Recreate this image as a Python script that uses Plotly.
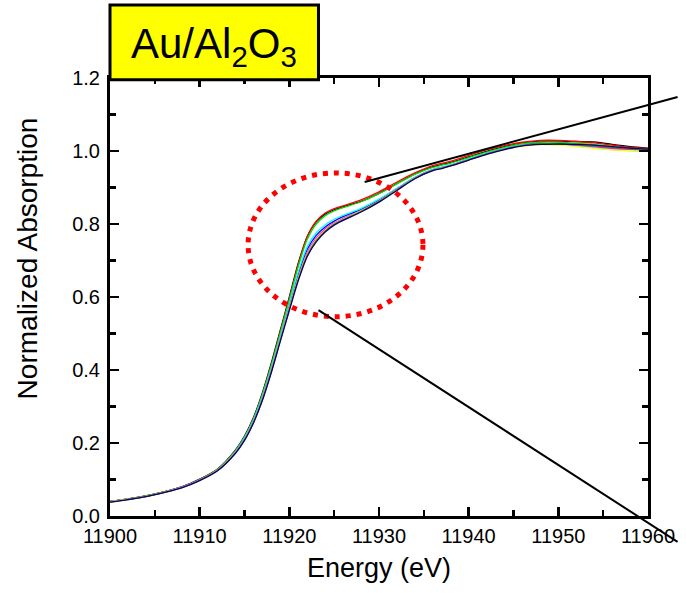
import plotly.graph_objects as go

# ---------------- data ----------------
energy = [11900, 11902, 11904, 11906, 11908, 11910, 11912, 11914, 11915, 11916,
          11917, 11918, 11919, 11920, 11921, 11922, 11923, 11924, 11925, 11926,
          11928, 11930, 11932, 11934, 11936, 11937, 11938, 11940, 11942, 11944,
          11946, 11948, 11950, 11952, 11954, 11956, 11958, 11960]

s_black = [0.040, 0.047, 0.055, 0.066, 0.080, 0.101, 0.129, 0.181, 0.219, 0.270,
           0.338, 0.420, 0.510, 0.600, 0.693, 0.766, 0.806, 0.827, 0.839, 0.847,
           0.862, 0.884, 0.911, 0.937, 0.957, 0.963, 0.969, 0.984, 0.999, 1.012,
           1.022, 1.027, 1.027, 1.026, 1.025, 1.018, 1.012, 1.008]
s_red = [0.040, 0.047, 0.055, 0.066, 0.080, 0.100, 0.128, 0.179, 0.217, 0.267,
         0.334, 0.415, 0.505, 0.596, 0.690, 0.766, 0.808, 0.830, 0.842, 0.850,
         0.866, 0.888, 0.915, 0.940, 0.960, 0.966, 0.972, 0.988, 1.003, 1.015,
         1.024, 1.029, 1.029, 1.026, 1.022, 1.016, 1.010, 1.007]
s_green = [0.040, 0.047, 0.055, 0.066, 0.080, 0.100, 0.128, 0.179, 0.216, 0.266,
           0.333, 0.413, 0.502, 0.592, 0.684, 0.758, 0.800, 0.823, 0.836, 0.845,
           0.861, 0.883, 0.910, 0.936, 0.955, 0.961, 0.967, 0.982, 0.997, 1.010,
           1.020, 1.024, 1.024, 1.021, 1.018, 1.012, 1.007, 1.004]
s_blue = [0.039, 0.046, 0.054, 0.065, 0.079, 0.099, 0.126, 0.176, 0.212, 0.261,
          0.325, 0.403, 0.490, 0.577, 0.663, 0.731, 0.769, 0.792, 0.808, 0.820,
          0.840, 0.866, 0.897, 0.927, 0.949, 0.955, 0.961, 0.977, 0.993, 1.006,
          1.016, 1.020, 1.020, 1.017, 1.014, 1.009, 1.005, 1.003]
s_cyan = [0.039, 0.046, 0.054, 0.065, 0.079, 0.099, 0.127, 0.177, 0.214, 0.263,
          0.328, 0.407, 0.494, 0.582, 0.669, 0.738, 0.776, 0.798, 0.813, 0.824,
          0.843, 0.868, 0.898, 0.928, 0.950, 0.956, 0.962, 0.978, 0.994, 1.007,
          1.016, 1.019, 1.018, 1.014, 1.009, 1.004, 1.001, 1.000]
s_magenta = [0.039, 0.046, 0.054, 0.065, 0.079, 0.099, 0.126, 0.175, 0.210, 0.258,
             0.322, 0.400, 0.486, 0.572, 0.655, 0.722, 0.761, 0.786, 0.803, 0.815,
             0.837, 0.863, 0.895, 0.926, 0.948, 0.954, 0.960, 0.976, 0.992, 1.005,
             1.015, 1.019, 1.019, 1.016, 1.012, 1.007, 1.003, 1.002]
s_yellow = [0.039, 0.046, 0.054, 0.065, 0.078, 0.098, 0.125, 0.174, 0.209, 0.257,
            0.320, 0.398, 0.484, 0.569, 0.652, 0.718, 0.758, 0.783, 0.801, 0.813,
            0.836, 0.862, 0.894, 0.925, 0.947, 0.953, 0.959, 0.975, 0.991, 1.004,
            1.013, 1.017, 1.016, 1.012, 1.007, 1.003, 1.001, 1.000]
s_olive = [0.038, 0.045, 0.053, 0.064, 0.078, 0.098, 0.125, 0.173, 0.208, 0.256,
           0.319, 0.396, 0.482, 0.567, 0.649, 0.715, 0.755, 0.781, 0.800, 0.812,
           0.835, 0.862, 0.894, 0.925, 0.947, 0.953, 0.960, 0.976, 0.992, 1.005,
           1.015, 1.019, 1.019, 1.017, 1.014, 1.010, 1.006, 1.004]
s_navy = [0.038, 0.045, 0.053, 0.064, 0.077, 0.097, 0.124, 0.172, 0.207, 0.255,
          0.317, 0.394, 0.479, 0.563, 0.645, 0.711, 0.751, 0.778, 0.797, 0.810,
          0.833, 0.860, 0.892, 0.924, 0.946, 0.952, 0.959, 0.975, 0.991, 1.004,
          1.014, 1.018, 1.019, 1.018, 1.016, 1.012, 1.008, 1.005]

series = [s_black, s_red, s_green, s_blue, s_cyan, s_magenta, s_yellow, s_olive, s_navy]
colors = ["#000000", "#FF0000", "#00DD00", "#0000FF", "#00FFFF", "#FF00FF",
          "#FFFF00", "#808000", "#000080"]

x_ticks = [11900, 11910, 11920, 11930, 11940, 11950, 11960]
y_ticks = [0.0, 0.2, 0.4, 0.6, 0.8, 1.0, 1.2]
X_RANGE = [11900, 11960]
Y_RANGE = [0.0, 1.2]

title_text = "Au/Al<sub>2</sub>O<sub>3</sub>"
x_title = "Energy (eV)"
y_title = "Normalized Absorption"

# decorations, in data units
ellipse = dict(x0=11915.4, x1=11934.9, y0=0.546, y1=0.940)
zoom_line1 = ((11928.4, 0.915), (11963.3, 1.148))
zoom_line2 = ((11923.25, 0.564), (11963.3, -0.071))
title_box = ((11900.0, 1.195), (11923.25, 1.40))


def fx(v):
    return (v - X_RANGE[0]) / (X_RANGE[1] - X_RANGE[0])


def fy(v):
    return (v - Y_RANGE[0]) / (Y_RANGE[1] - Y_RANGE[0])


FONT = "Liberation Sans, Arial, sans-serif"

fig = go.Figure()
for ys, c in zip(series, colors):
    fig.add_trace(go.Scatter(x=energy, y=ys, mode="lines",
                             line=dict(color=c, width=1.3, shape="spline", smoothing=0.8),
                             showlegend=False, hoverinfo="skip"))

axis_common = dict(showline=True, linecolor="black", linewidth=3, mirror="ticks",
                   ticks="inside", ticklen=9, tickwidth=2.5, tickcolor="black",
                   showgrid=False, zeroline=False,
                   tickfont=dict(family=FONT, size=20, color="black"))

fig.update_xaxes(range=X_RANGE, tickvals=x_ticks, ticktext=[str(v) for v in x_ticks],
                 minor=dict(dtick=5, tick0=11900, ticks="inside", ticklen=6,
                            tickwidth=2.5, tickcolor="black"),
                 **axis_common)
fig.update_yaxes(range=Y_RANGE, tickvals=y_ticks, ticktext=[f"{v:.1f}" for v in y_ticks],
                 minor=dict(dtick=0.1, tick0=0, ticks="inside", ticklen=6,
                            tickwidth=2.5, tickcolor="black"),
                 ticklabelstandoff=3,
                 **axis_common)

shapes = [
    dict(type="circle", xref="x", yref="y", **ellipse,
         line=dict(color="#FF0000", width=5, dash="5px,6px")),
    dict(type="line", xref="paper", yref="paper",
         x0=fx(zoom_line1[0][0]), y0=fy(zoom_line1[0][1]),
         x1=fx(zoom_line1[1][0]), y1=fy(zoom_line1[1][1]),
         line=dict(color="black", width=2)),
    dict(type="line", xref="paper", yref="paper",
         x0=fx(zoom_line2[0][0]), y0=fy(zoom_line2[0][1]),
         x1=fx(zoom_line2[1][0]), y1=fy(zoom_line2[1][1]),
         line=dict(color="black", width=2)),
    dict(type="rect", xref="paper", yref="paper",
         x0=fx(title_box[0][0]), y0=fy(title_box[0][1]),
         x1=fx(title_box[1][0]), y1=fy(title_box[1][1]),
         fillcolor="#FFFF00", line=dict(color="black", width=3), layer="above"),
]

annotations = [
    dict(text=title_text, xref="paper", yref="paper",
         x=fx((title_box[0][0] + title_box[1][0]) / 2), y=fy(1.285),
         xanchor="center", yanchor="middle", showarrow=False,
         font=dict(family=FONT, size=42, color="black")),
    dict(text=x_title, xref="paper", yref="paper", x=0.5, y=-0.1187,
         xanchor="center", yanchor="middle", showarrow=False,
         font=dict(family=FONT, size=27, color="black")),
    dict(text=y_title, xref="paper", yref="paper", x=-0.1536, y=0.589,
         xanchor="center", yanchor="middle", showarrow=False, textangle=-90,
         font=dict(family=FONT, size=28, color="black")),
]

fig.update_layout(width=687, height=593, margin=dict(l=110, r=30, t=78, b=77),
                  paper_bgcolor="white", plot_bgcolor="white",
                  shapes=shapes, annotations=annotations,
                  font=dict(family=FONT, color="black"))

fig.write_html("out.html",
               config={"displayModeBar": False, "staticPlot": True},
               post_script="document.body.style.margin='0';document.body.style.overflow='hidden';")
